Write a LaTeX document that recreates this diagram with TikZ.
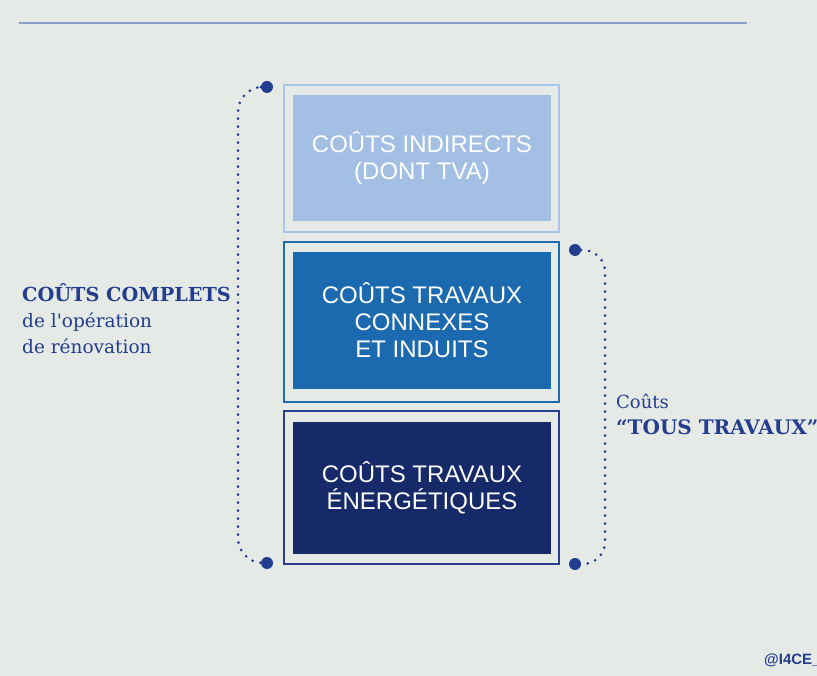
\documentclass[tikz,border=0pt]{standalone}
\usepackage{fontspec}
\usepackage{xcolor}
\usepackage{tikz}
\setmainfont{DejaVu Serif}
\newfontfamily\boxfont{Liberation Sans}
\definecolor{bggrey}{HTML}{E5EAE6}
\definecolor{rulecol}{HTML}{8C9ECB}
\definecolor{lightframe}{HTML}{A9C6EA}
\definecolor{lightfill}{HTML}{A3BFE4}
\definecolor{midframe}{HTML}{1E6BB0}
\definecolor{midfill}{HTML}{1B69AF}
\definecolor{darkframe}{HTML}{2A3E8E}
\definecolor{darkfill}{HTML}{162969}
\definecolor{inkblue}{HTML}{233D8F}

\begin{document}
\begin{tikzpicture}[x=1pt, y=-1pt,
    frame/.style={draw, line width=2pt, minimum width=275pt, inner sep=0pt},
    block/.style={minimum width=258pt, inner sep=0pt, text=white, align=center,
        font=\boxfont\fontsize{24}{27}\selectfont},
    enddot/.style={circle, fill=inkblue, minimum size=12pt, inner sep=0pt},
    dotline/.style={inkblue, line width=3pt, line cap=round, dash pattern=on 0pt off 8pt},
    label/.style={anchor=base west, inner sep=0pt, inkblue}]
    \fill [bggrey] (0, 0) rectangle (817, 676);
    \useasboundingbox (0, 0) rectangle (817, 676);
    \coordinate (rulestart) at (19, 23);
    \coordinate (ruleend) at (747, 23);
    \draw [rulecol, line width=1.5pt] (rulestart) -- (ruleend);
    % stacked cost blocks
    \node [frame, draw=lightframe, minimum height=147pt] (indirectframe) at (421.5, 159) {};
    \node [block, fill=lightfill, minimum height=126pt] (indirect) at (422, 158) {COÛTS INDIRECTS\\(DONT TVA)};
    \node [frame, draw=midframe, minimum height=159pt] (connexframe) at (421.5, 322) {};
    \node [block, fill=midfill, minimum height=137pt] (connex) at (422, 320.5) {COÛTS TRAVAUX\\CONNEXES\\ET INDUITS};
    \node [frame, draw=darkframe, minimum height=153pt] (energieframe) at (421.5, 487) {};
    \node [block, fill=darkfill, minimum height=132pt] (energie) at (422, 488) {COÛTS TRAVAUX\\ÉNERGÉTIQUES};
    % brackets
    \node [enddot] (lefttop) at (267, 87) {};
    \node [enddot] (leftbot) at (267, 563) {};
    \node [enddot] (righttop) at (575, 250) {};
    \node [enddot] (rightbot) at (575, 564) {};
    \draw [dotline, rounded corners=25pt] (lefttop) -- ++(-29, 0) |- (leftbot);
    \draw [dotline, rounded corners=22pt] (righttop) -- ++(30, 0) |- (rightbot);
    % labels
    \node [label, font=\bfseries\fontsize{19.3}{24}\selectfont] (complets) at (22, 302) {COÛTS COMPLETS};
    \node [label, font=\fontsize{18.5}{22}\selectfont] (operation) at (22, 328) {de l\textquotesingle opération};
    \node [label, font=\fontsize{18.5}{22}\selectfont] (renovation) at (22, 354) {de rénovation};
    \node [label, font=\fontsize{18}{22}\selectfont] (couts) at (616, 409) {Coûts};
    \node [label, font=\bfseries\fontsize{20}{24}\selectfont] (tous) at (616, 435) {“TOUS TRAVAUX”};
    \node [label, font=\boxfont\bfseries\fontsize{15}{18}\selectfont] (credit) at (764, 664) {@I4CE\_};
\end{tikzpicture}
\end{document}
